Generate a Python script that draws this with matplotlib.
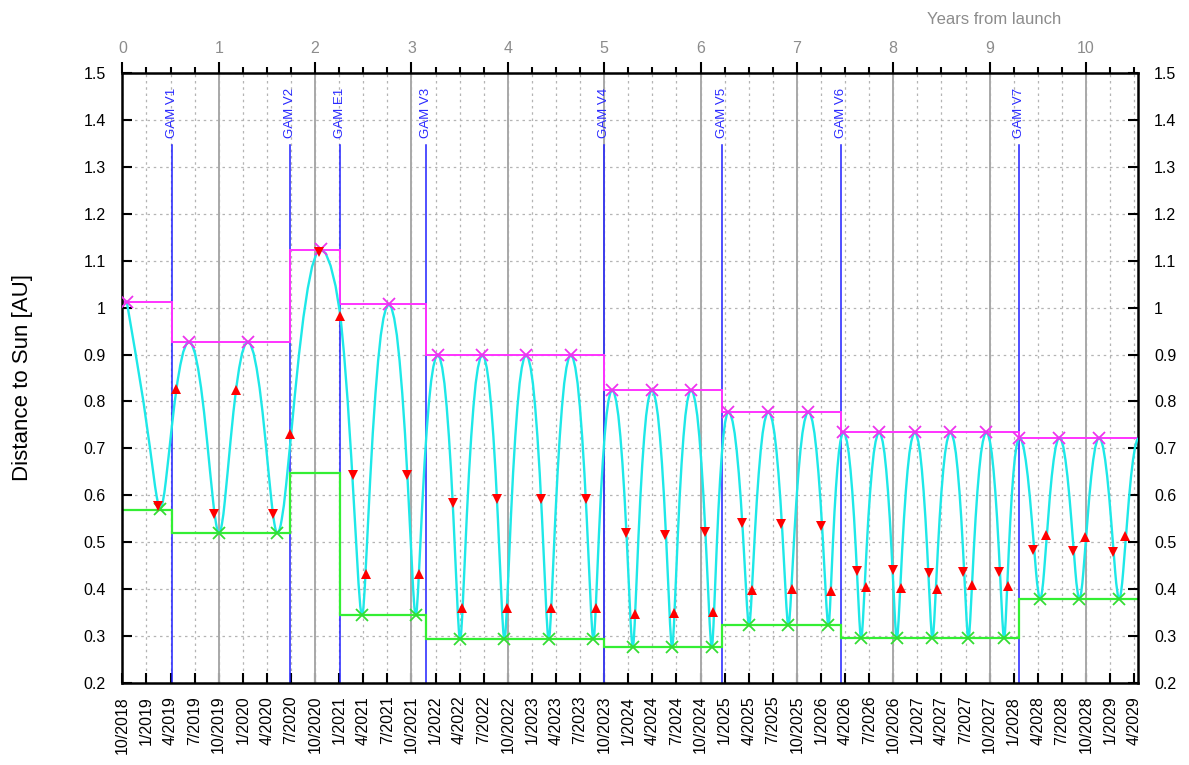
import numpy as np
import matplotlib
matplotlib.use('Agg')
import matplotlib.pyplot as plt
from matplotlib.ticker import MultipleLocator, FuncFormatter

plt.rcParams['font.family'] = ['Liberation Sans', 'DejaVu Sans']

# ---- data (x in years from launch, y in AU) ----
# aphelia (magenta crosses); first one is the launch point
APH_T = [0.046, 0.692, 1.301, 2.059, 2.765, 3.273, 3.736, 4.190, 4.654,
         5.083, 5.495, 5.902, 6.290, 6.705, 7.120, 7.483, 7.854, 8.224,
         8.594, 8.967, 9.310, 9.725, 10.137]
APH_R = [1.0125, 0.927, 0.927, 1.124, 1.007, 0.899, 0.899, 0.899, 0.899,
         0.8245, 0.8245, 0.8245, 0.778, 0.778, 0.778, 0.734, 0.734, 0.734,
         0.734, 0.734, 0.723, 0.723, 0.723]
# perihelia (green crosses)
PERI_T = [0.391, 1.004, 1.609, 2.488, 3.045, 3.505, 3.965, 4.425, 4.889,
          5.297, 5.705, 6.117, 6.504, 6.912, 7.328, 7.667, 8.037, 8.407,
          8.780, 9.151, 9.525, 9.932, 10.345]
PERI_R = [0.571, 0.520, 0.520, 0.345, 0.345, 0.294, 0.294, 0.294, 0.294,
          0.278, 0.278, 0.278, 0.324, 0.324, 0.324, 0.296, 0.296, 0.296,
          0.296, 0.296, 0.380, 0.380, 0.380]
# where the cyan curve leaves the frame
CURVE_END = (10.55, 0.723)
# point the curve passes through at the Earth flyby
E1_THROUGH = (2.263, 0.983)

# normalised half-orbit shapes (time from aphelion -> distance)
SHAPE_S = [0, 0.1, 0.2, 0.3, 0.4, 0.5, 0.6, 0.7, 0.8, 0.85, 0.9, 0.925, 0.95, 0.975, 1.0]
SHAPE_LOW = [1, 0.985, 0.939, 0.862, 0.760, 0.632, 0.482, 0.321, 0.167, 0.098,
             0.048, 0.027, 0.012, 0.003, 0]
SHAPE_HIGH = [1, 0.989, 0.955, 0.900, 0.818, 0.713, 0.585, 0.431, 0.258, 0.170,
              0.088, 0.055, 0.024, 0.006, 0]
LAUNCH_S = [0, 0.27, 0.5, 0.7, 0.8, 0.85, 0.9, 0.95, 1.0]
LAUNCH_U = [1, 0.745, 0.519, 0.292, 0.17, 0.11, 0.06, 0.018, 0]

# red triangles
DOWN_T = [0.374, 0.948, 1.564, 2.042, 2.398, 2.958, 3.428, 3.886, 4.349, 4.813,
          5.228, 5.636, 6.048, 6.429, 6.836, 7.252, 7.622, 7.996, 8.366, 8.729,
          9.099, 9.455, 9.870, 10.279]
DOWN_R = [0.577, 0.560, 0.560, 1.118, 0.6435, 0.6435, 0.5845, 0.5918, 0.5918, 0.5918,
          0.5194, 0.5151, 0.5215, 0.542, 0.5385, 0.5356, 0.439, 0.4412, 0.4342, 0.4363,
          0.4376, 0.4838, 0.4817, 0.4802]
UP_T = [0.557, 1.177, 1.737, 2.263, 2.529, 3.083, 3.526, 3.990, 4.449, 4.916,
        5.321, 5.726, 6.134, 6.532, 6.951, 7.352, 7.716, 8.082, 8.452, 8.822,
        9.193, 9.584, 9.992, 10.400]
UP_R = [0.8266, 0.8238, 0.730, 0.9826, 0.4334, 0.4334, 0.3597, 0.3597, 0.3597, 0.361,
        0.347, 0.3503, 0.3525, 0.3987, 0.4008, 0.3965, 0.4044, 0.4036, 0.4008, 0.4093,
        0.4078, 0.5157, 0.5121, 0.5143]

# gravity assists
GAM_NAMES = ["GAM V1", "GAM V2", "GAM E1", "GAM V3", "GAM V4", "GAM V5", "GAM V6", "GAM V7"]
GAM_T = [0.513, 1.737, 2.259, 3.155, 5.0, 6.227, 7.459, 9.31]

# aphelion / perihelion level per phase
PHASE_EDGES = [0.0] + GAM_T + [10.535]
APH_LEVEL = [1.0125, 0.926, 1.123, 1.007, 0.899, 0.8245, 0.778, 0.734, 0.723]
PERI_LEVEL = [0.570, 0.5205, 0.647, 0.3455, 0.294, 0.278, 0.3245, 0.296, 0.3795]

YEARS = list(range(0, 11))
DATE_LABELS = ["10/2018", "1/2019", "4/2019", "7/2019", "10/2019", "1/2020", "4/2020",
               "7/2020", "10/2020", "1/2021", "4/2021", "7/2021", "10/2021", "1/2022",
               "4/2022", "7/2022", "10/2022", "1/2023", "4/2023", "7/2023", "10/2023",
               "1/2024", "4/2024", "7/2024", "10/2024", "1/2025", "4/2025", "7/2025",
               "10/2025", "1/2026", "4/2026", "7/2026", "10/2026", "1/2027", "4/2027",
               "7/2027", "10/2027", "1/2028", "4/2028", "7/2028", "10/2028", "1/2029",
               "4/2029"]
DATE_POS = np.arange(len(DATE_LABELS)) * 0.25


def half_orbit(p_hi, p_lo, s, u, via=None):
    """curve from aphelion p_hi to perihelion p_lo (either direction in time)"""
    s = np.asarray(s, float)
    u = np.asarray(u, float)
    t = p_hi[0] + s * (p_lo[0] - p_hi[0])
    if via is not None:
        uv = (via[1] - p_lo[1]) / (p_hi[1] - p_lo[1])
        sv = np.interp(uv, u[::-1], s[::-1])
        t = np.interp(s, [0, sv, 1], [p_hi[0], via[0], p_lo[0]])
    r = p_lo[1] + u * (p_hi[1] - p_lo[1])
    return t, r


def orbit_curve():
    seq = []
    for i in range(len(APH_T)):
        seq.append((APH_T[i], APH_R[i]))
        seq.append((PERI_T[i], PERI_R[i]))
    seq.append(CURVE_END)
    ts, rs = [], []
    for i in range(len(seq) - 1):
        a, b = seq[i], seq[i + 1]
        hi, lo = (a, b) if a[1] > b[1] else (b, a)
        if i == 0:
            s, u = LAUNCH_S, LAUNCH_U
        else:
            e = (hi[1] - lo[1]) / (hi[1] + lo[1])
            s, u = SHAPE_S, (SHAPE_HIGH if e > 0.375 else SHAPE_LOW)
        via = E1_THROUGH if a[0] < E1_THROUGH[0] < b[0] else None
        t, r = half_orbit(hi, lo, s, u, via)
        if a[1] < b[1]:
            t, r = t[::-1], r[::-1]
        ts.extend(t)
        rs.extend(r)
    return np.array(ts), np.array(rs)


fig = plt.figure(figsize=(11.89, 7.65), dpi=100)
ax = fig.add_axes([0.1029, 0.1068, 0.8538, 0.7982])
ax.set_xlim(0, 10.535)
ax.set_ylim(0.2, 1.5)

# grid
ax.set_xticks(DATE_POS)
ax.set_xticklabels(DATE_LABELS, rotation=90, fontsize=11.5)
ax.yaxis.set_major_locator(MultipleLocator(0.1))
ax.yaxis.set_major_formatter(FuncFormatter(lambda v, p: "%g" % round(v, 1)))
ax.grid(True, color='#b4b4b4', linestyle=(0, (2, 3)), linewidth=0.9, zorder=0)
ax.set_axisbelow(True)
for y in YEARS:
    ax.axvline(y, color='#a8a8a8', linewidth=1.4, zorder=0.6)

# flybys
for name, t in zip(GAM_NAMES, GAM_T):
    ax.plot([t, t], [0.2, 1.346], color='#1f1fff', linewidth=1.1, zorder=1)
    ax.text(t, 1.36, name, rotation=90, ha='center', va='bottom', color='#2a2aff',
            fontsize=9.5)

# aphelion / perihelion steps
ax.stairs(APH_LEVEL, PHASE_EDGES, baseline=None, color='#ff33ff', linewidth=1.4, zorder=2)
ax.stairs(PERI_LEVEL, PHASE_EDGES, baseline=None, color='#33ee33', linewidth=1.6, zorder=2)

ct, cr = orbit_curve()
ax.plot(ct, cr, color='#1ee8e8', linewidth=1.7, zorder=3)

ax.plot(APH_T, APH_R, 'x', color='#ee33ee', markersize=8, markeredgewidth=1.3, zorder=4)
ax.plot(PERI_T, PERI_R, 'x', color='#33dd33', markersize=8, markeredgewidth=1.3, zorder=4)
ax.plot(DOWN_T, DOWN_R, 'v', color='#ff0000', markersize=7, markeredgewidth=0, zorder=5)
ax.plot(UP_T, UP_R, '^', color='#ff0000', markersize=7, markeredgewidth=0, zorder=5)

# axes styling
for sp in ax.spines.values():
    sp.set_linewidth(1.8)
ax.tick_params(axis='x', direction='in', length=7, width=1.5, top=True, pad=9)
ax.tick_params(axis='y', direction='in', length=7, width=1.5, right=True,
               labelright=True, labelsize=11.5, pad=12)
ax.set_ylabel("Distance to Sun [AU]", fontsize=16, labelpad=36)

ax2 = ax.twiny()
ax2.set_xlim(ax.get_xlim())
ax2.set_xticks(YEARS)
ax2.xaxis.set_minor_locator(MultipleLocator(0.25))
ax2.tick_params(axis='x', which='major', direction='out', length=8, width=1.5,
                labelsize=11.5, labelcolor='#8c8c8c', pad=4)
ax2.tick_params(axis='x', which='minor', direction='out', length=4.3, width=1.5)
for sp in ax2.spines.values():
    sp.set_visible(False)
fig.text(994 / 1189, 1 - 20 / 765, "Years from launch", color='#8c8c8c', fontsize=12,
         ha='center', va='center')

fig.savefig('out.png', dpi=100)
